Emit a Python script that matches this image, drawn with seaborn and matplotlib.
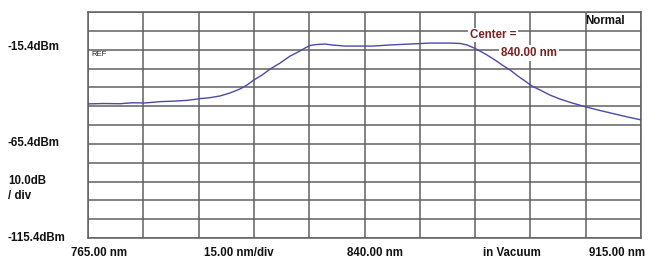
import numpy as np
import pandas as pd
import matplotlib
matplotlib.use("Agg")
import matplotlib.pyplot as plt
import seaborn as sns

# Wavelength (nm) and power (dBm)
wavelength = [765.0, 769.0, 773.7, 777.0, 780.5, 784.5, 788.6, 792.0, 795.4, 798.0,
              800.8, 803.5, 806.2, 808.1, 810.0, 812.2, 814.4, 817.1, 819.8, 822.5,
              823.9, 825.2, 826.8, 829.3, 831.2, 834.7, 842.3, 846.9, 852.4, 857.8,
              863.2, 865.9, 867.8, 869.7, 871.3, 873.2, 875.4, 877.3, 879.5, 881.6,
              883.5, 885.4, 887.6, 890.3, 893.0, 896.3, 900.1, 903.9, 908.0, 911.5, 915.0]
power = [-44.2, -44.0, -44.1, -43.6, -43.7, -43.0, -42.7, -42.3, -41.4, -40.9,
         -40.0, -38.4, -36.3, -34.2, -31.5, -28.9, -25.7, -22.5, -18.8, -16.1,
         -14.5, -13.2, -12.7, -12.4, -12.9, -13.5, -13.5, -12.9, -12.4, -11.9,
         -11.9, -12.1, -12.9, -14.5, -16.1, -18.2, -20.9, -23.5, -26.2, -29.4,
         -32.0, -34.7, -36.8, -39.5, -41.6, -43.7, -45.8, -47.7, -49.6, -51.2, -52.7]

x_min, x_max, x_div = 765.0, 915.0, 15.0
y_min, y_div, n_ydiv = -115.4, 10.0, 12

df = pd.DataFrame({"wavelength": wavelength, "power": power})

sns.set_style("white")
plt.rcParams["font.family"] = ["Liberation Sans", "DejaVu Sans"]

fig = plt.figure(figsize=(6.54, 2.63), dpi=100)
ax = fig.add_axes([88/654, 1-238/263, (641-88)/654, (238-12)/263])

grid_c = "#606060"
sns.lineplot(data=df, x="wavelength", y="power", ax=ax, color="#4a4aa8", linewidth=1.0, zorder=3)

ax.set_xlim(x_min, x_max)
ax.set_ylim(y_min, y_min + n_ydiv * y_div)
ax.set_xticks(np.arange(x_min, x_max + 0.1, x_div))
ax.set_yticks([y_min + k * y_div for k in range(n_ydiv + 1)])
ax.grid(True, color=grid_c, linewidth=1.1)
ax.tick_params(left=False, bottom=False, labelleft=False, labelbottom=False)
ax.set_xlabel("")
ax.set_ylabel("")
for s in ax.spines.values():
    s.set_color(grid_c)
    s.set_linewidth(1.1)

def fx(px):
    return px / 654
def fy(py):
    return 1 - py / 263

fs = 8.3
kw = dict(fontsize=fs, fontweight="bold", color="#111111")
fig.text(fx(8), fy(47), "-15.4dBm", ha="left", va="center", **kw)
fig.text(fx(8), fy(143), "-65.4dBm", ha="left", va="center", **kw)
fig.text(fx(8), fy(181), "10.0dB", ha="left", va="center", **kw)
fig.text(fx(8), fy(196), "/ div", ha="left", va="center", **kw)
fig.text(fx(8), fy(238), "-115.4dBm", ha="left", va="center", **kw)

fig.text(fx(91), fy(54), "REF", ha="left", va="center", fontsize=5.5, color="#222222")

fig.text(fx(99), fy(253), "765.00 nm", ha="center", va="center", **kw)
fig.text(fx(239), fy(253), "15.00 nm/div", ha="center", va="center", **kw)
fig.text(fx(375), fy(253), "840.00 nm", ha="center", va="center", **kw)
fig.text(fx(512), fy(253), "in Vacuum", ha="center", va="center", **kw)
fig.text(fx(617), fy(253), "915.00 nm", ha="center", va="center", **kw)

fig.text(fx(605), fy(21), "Normal", ha="center", va="center", **kw)

red = "#7a2020"
fig.text(fx(493), fy(35), "Center =", ha="center", va="center", fontsize=fs, fontweight="bold",
         color=red, zorder=5,
         bbox=dict(facecolor="white", edgecolor="none", pad=1.0))
fig.text(fx(529), fy(53), "840.00 nm", ha="center", va="center", fontsize=fs, fontweight="bold",
         color=red, zorder=5,
         bbox=dict(facecolor="white", edgecolor="none", pad=1.5))

fig.savefig("out.png", dpi=100, facecolor="white")
